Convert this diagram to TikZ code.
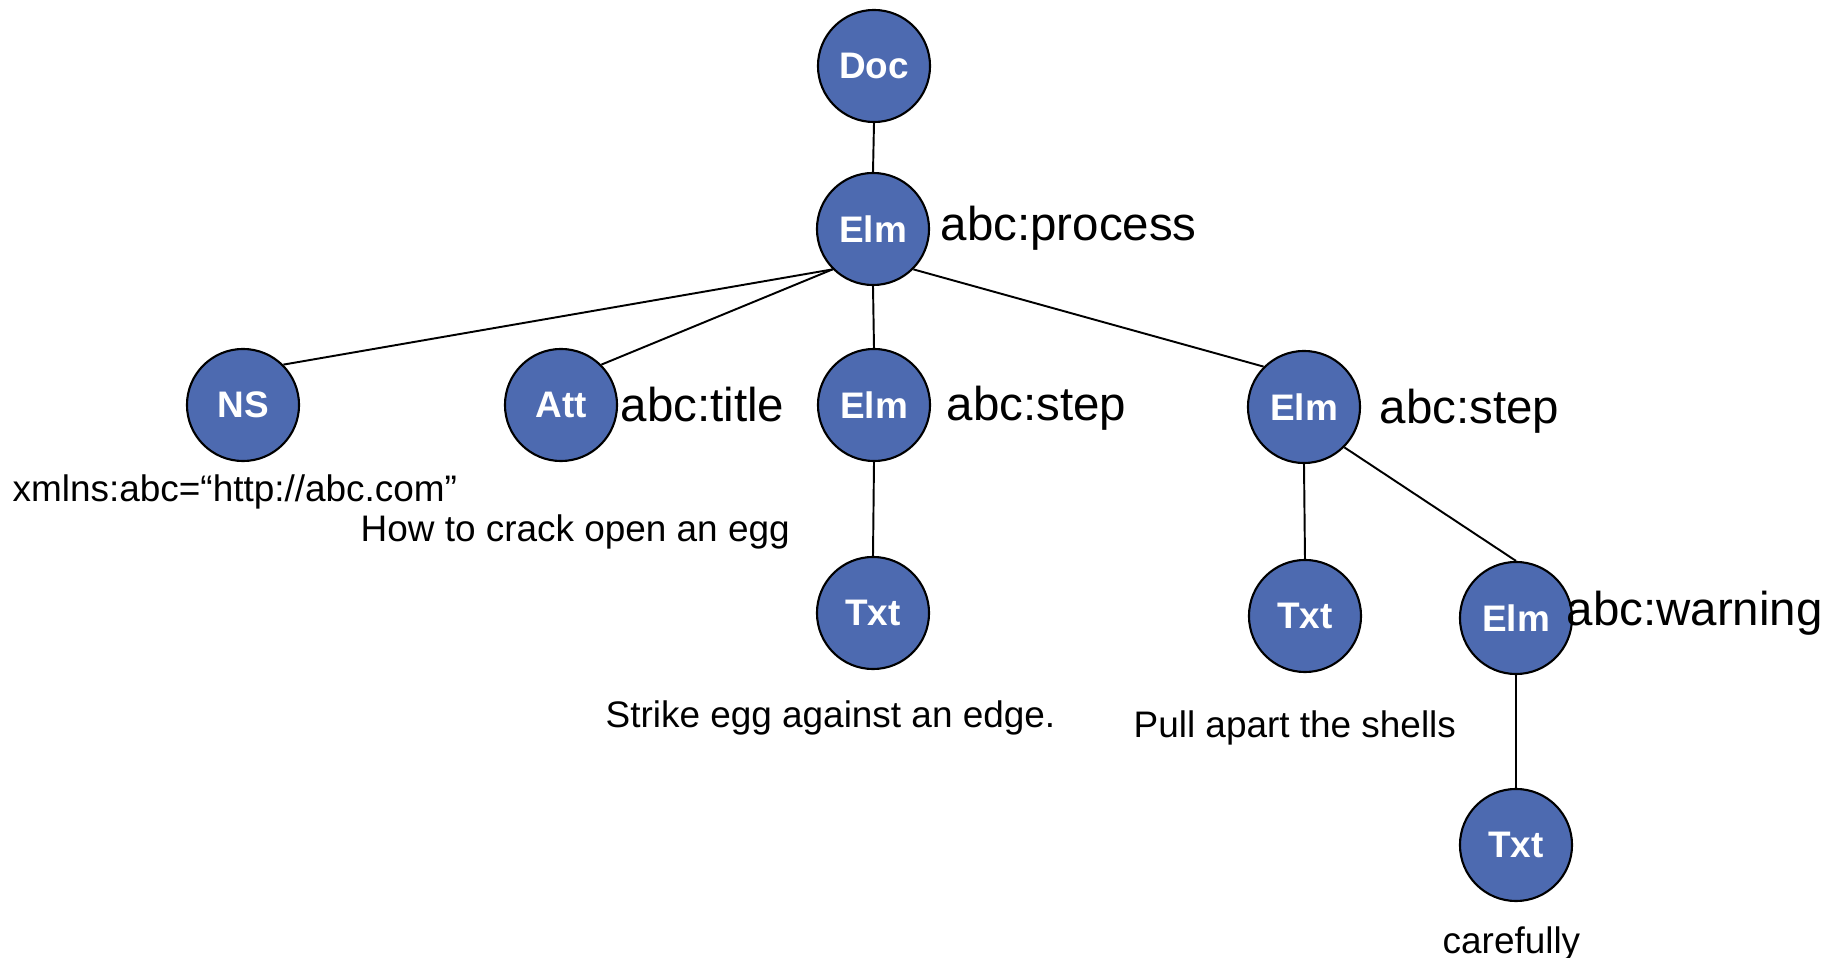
\documentclass[tikz,border=0pt]{standalone}
\usepackage{fontspec}
\setmainfont{Liberation Sans}
\usepackage{xcolor}
\definecolor{nodeblue}{RGB}{77,106,176}

\begin{document}
\begin{tikzpicture}[x=0.01cm, y=-0.01cm]
\tikzset{treenode/.style={circle, draw, line width=0.6pt, fill=nodeblue, text=white, minimum size=1.12cm, inner sep=0pt, font=\fontsize{10.5}{12}\selectfont\bfseries} }
\tikzset{tagname/.style={anchor=west, inner sep=0pt, font=\fontsize{13.5}{16}\selectfont} }
\tikzset{tagtext/.style={anchor=west, inner sep=0pt, font=\fontsize{10.5}{12}\selectfont} }
\useasboundingbox (0,0) rectangle (1835,958);
\node[treenode] (doc)   at (874,66)   {Doc};
\node[treenode] (proc)  at (873,229)  {Elm};
\node[treenode] (ns)    at (243,405)  {NS};
\node[treenode] (att)   at (561,405)  {Att};
\node[treenode] (stepa) at (874,405)  {Elm};
\node[treenode] (stepb) at (1304,407) {Elm};
\node[treenode] (txta)  at (873,613)  {Txt};
\node[treenode] (txtb)  at (1305,616) {Txt};
\node[treenode] (warn)  at (1516,618) {Elm};
\node[treenode] (txtc)  at (1516,845) {Txt};
% element names
\node[tagname] (procname)  at (940,228)  {abc:process};
\node[tagname] (attname)   at (620,405)  {abc:title};
\node[tagname] (stepaname) at (946,408)  {abc:step};
\node[tagname] (stepbname) at (1379,411) {abc:step};
\node[tagname] (warnname)  at (1566,613) {abc:warning};
% values
\node[tagtext] (nsval)   at (12,492)   {xmlns:abc=“http://abc.com”};
\node[tagtext] (attval)  at (360,532)  {How to crack open an egg};
\node[tagtext] (txtaval) at (605,718)  {Strike egg against an edge.};
\node[tagtext] (txtbval) at (1133,728) {Pull apart the shells};
\node[tagtext] (txtcval) at (1442,944) {carefully};
\begin{scope}[line width=0.55pt]
\draw (doc.south) -- (proc.north);
\draw (proc.south west) -- (ns.north east);
\draw (proc.south west) -- (att.north east);
\draw (proc.south) -- (stepa.north);
\draw (proc.south east) -- (stepb.north west);
\draw (stepa.south) -- (txta.north);
\draw (stepb.south) -- (txtb.north);
\draw (stepb.south east) -- (warn.north);
\draw (warn.south) -- (txtc.north);
\end{scope}
\end{tikzpicture}
\end{document}
